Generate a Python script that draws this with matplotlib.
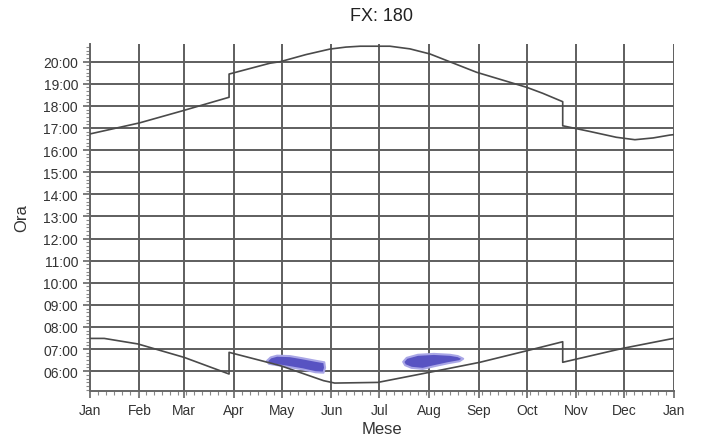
import matplotlib
matplotlib.use("Agg")
import matplotlib.pyplot as plt
from matplotlib.ticker import FixedLocator, MultipleLocator

plt.rcParams["font.family"] = ["Liberation Sans", "DejaVu Sans"]

# month ticks (day of year)
month_days = [0, 31, 59, 90, 120, 151, 181, 212, 243, 273, 304, 334, 365]
month_labels = ["Jan", "Feb", "Mar", "Apr", "May", "Jun", "Jul",
                "Aug", "Sep", "Oct", "Nov", "Dec", "Jan"]
hour_ticks = list(range(6, 21))

# sunset (upper curve), hours, legal time
sunset_days = [0, 31, 58, 87, 87, 112.5, 119, 135, 150, 160, 169, 187.5, 200,
               212.5, 241.7, 273, 283, 295.5, 295.5, 312, 329, 340.6, 352, 362.5, 365]
sunset_hours = [16.73, 17.23, 17.78, 18.39, 19.44, 19.93, 20.0, 20.32, 20.57, 20.66, 20.70,
                20.70, 20.58, 20.35, 19.52, 18.84, 18.57, 18.19, 17.10, 16.85, 16.58,
                16.47, 16.55, 16.68, 16.70]

# sunrise (lower curve)
sunrise_days = [0, 9, 30, 59, 87, 87, 119, 146, 153, 180, 212.5, 243.75,
                273, 295.5, 295.5, 333, 362.5, 365]
sunrise_hours = [7.48, 7.48, 7.23, 6.62, 5.87, 6.85, 6.25, 5.57, 5.46, 5.49, 5.95, 6.40,
                 6.92, 7.33, 6.40, 7.03, 7.45, 7.48]

# the two shaded patches (day, hour outline)
patch_a_days = [110.5, 113, 117, 125, 133, 141, 146.5, 147, 146, 141, 133, 125, 118, 112]
patch_a_hours = [6.45, 6.62, 6.70, 6.68, 6.58, 6.47, 6.40, 6.15, 5.93, 5.95, 6.08, 6.18, 6.26, 6.33]
patch_b_days = [195.8, 198, 205, 215, 225, 230, 233.3, 231, 224, 215, 208, 201, 197]
patch_b_hours = [6.42, 6.60, 6.74, 6.78, 6.74, 6.68, 6.56, 6.45, 6.36, 6.22, 6.10, 6.15, 6.27]


def main():
    fig = plt.figure(figsize=(7.02, 4.39), dpi=100)
    ax = fig.add_axes([0.128, 0.107, 0.832, 0.7905])

    grid_col = "#5e5e5e"
    for d in month_days:
        ax.axvline(d, color=grid_col, lw=1.4, zorder=1)
    for h in hour_ticks:
        ax.axhline(h, color=grid_col, lw=1.4, zorder=1)

    for xs, ys in [(patch_a_days, patch_a_hours), (patch_b_days, patch_b_hours)]:
        ax.fill(xs, ys, facecolor="#5853c2", edgecolor="#a9a6e6", lw=1.5,
                joinstyle="round", zorder=2)

    ax.plot(sunset_days, sunset_hours, color="#4a4a4a", lw=1.2, zorder=3)
    ax.plot(sunrise_days, sunrise_hours, color="#4a4a4a", lw=1.2, zorder=3)

    ax.set_xlim(0, 365)
    ax.set_ylim(5.1, 20.8)

    ax.xaxis.set_major_locator(FixedLocator(month_days))
    ax.set_xticklabels(month_labels)
    ax.xaxis.set_minor_locator(MultipleLocator(5))
    ax.yaxis.set_major_locator(FixedLocator(hour_ticks))
    ax.set_yticklabels([f"{h:02d}:00" for h in hour_ticks])
    ax.yaxis.set_minor_locator(MultipleLocator(1 / 6))

    ax.tick_params(which="major", length=5, width=1.2, color="#666666",
                   labelsize=10, labelcolor="#333333")
    ax.tick_params(which="minor", length=3, width=0.8, color="#888888")

    for side in ["top", "right"]:
        ax.spines[side].set_visible(False)
    for side in ["left", "bottom"]:
        ax.spines[side].set_color("#666666")
        ax.spines[side].set_linewidth(1.4)

    ax.set_title("FX: 180", fontsize=13, color="#222222", pad=17)
    ax.set_xlabel("Mese", fontsize=12, color="#333333", labelpad=3)
    ax.set_ylabel("Ora", fontsize=12, color="#333333", labelpad=10)

    fig.savefig("out.png", dpi=100)
    plt.close(fig)


if __name__ == "__main__":
    main()
